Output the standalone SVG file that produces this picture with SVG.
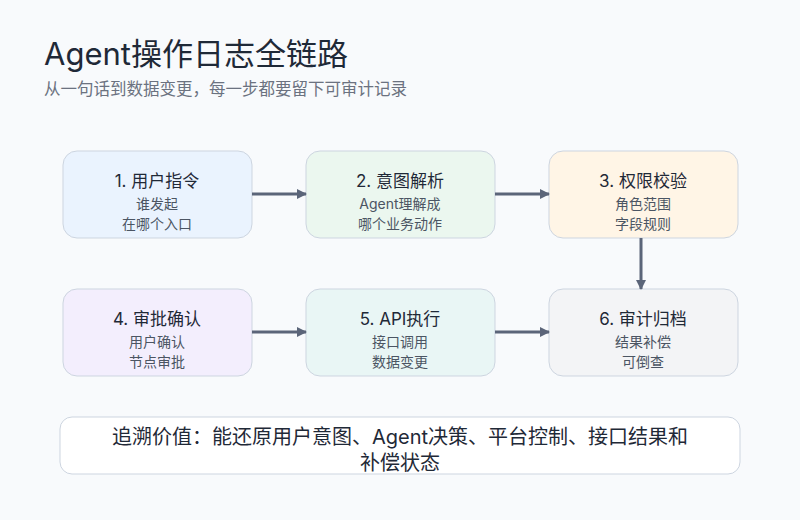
<svg xmlns="http://www.w3.org/2000/svg" width="800" height="520" viewBox="0 0 800 520">
<defs>
<marker id="ah" markerWidth="10" markerHeight="10" refX="9" refY="5" orient="auto" markerUnits="userSpaceOnUse"><path d="M0,0 L10,5 L0,10 Z" fill="#5B6579"/></marker>
</defs>
<style>
text{font-family:Inter,"Noto Sans CJK SC",sans-serif}
.box{stroke:#CDD5E0;stroke-width:1}
.t{font-size:17px;fill:#1F2937;text-anchor:middle}
.s{font-size:14px;fill:#4B5563;text-anchor:middle}
.c{stroke:#5B6579;stroke-width:3;fill:none;marker-end:url(#ah)}
</style>
<rect width="800" height="520" fill="#F8FAFC"/>
<text x="44" y="65" font-size="31" fill="#1F2937">Agent操作日志全链路</text>
<text x="44" y="95" font-size="16.5" fill="#6B7280">从一句话到数据变更，每一步都要留下可审计记录</text>
<g id="n1"><rect class="box" x="63" y="151" width="189" height="87" rx="14" fill="#EAF3FE"/><text class="t" x="157" y="187">1. 用户指令</text><text class="s" x="157" y="209">谁发起</text><text class="s" x="157" y="229">在哪个入口</text></g>
<g id="n2"><rect class="box" x="306" y="151" width="189" height="87" rx="14" fill="#EBF7EF"/><text class="t" x="400" y="187">2. 意图解析</text><text class="s" x="400" y="209">Agent理解成</text><text class="s" x="400" y="229">哪个业务动作</text></g>
<g id="n3"><rect class="box" x="549" y="151" width="189" height="87" rx="14" fill="#FFF5E6"/><text class="t" x="643" y="187">3. 权限校验</text><text class="s" x="643" y="209">角色范围</text><text class="s" x="643" y="229">字段规则</text></g>
<g id="n4"><rect class="box" x="63" y="289" width="189" height="87" rx="14" fill="#F3EEFD"/><text class="t" x="157" y="325">4. 审批确认</text><text class="s" x="157" y="347">用户确认</text><text class="s" x="157" y="367">节点审批</text></g>
<g id="n5"><rect class="box" x="306" y="289" width="189" height="87" rx="14" fill="#E9F6F5"/><text class="t" x="400" y="325">5. API执行</text><text class="s" x="400" y="347">接口调用</text><text class="s" x="400" y="367">数据变更</text></g>
<g id="n6"><rect class="box" x="549" y="289" width="189" height="87" rx="14" fill="#F3F4F6"/><text class="t" x="643" y="325">6. 审计归档</text><text class="s" x="643" y="347">结果补偿</text><text class="s" x="643" y="367">可倒查</text></g>
<g id="connectors">
<line class="c" x1="252" y1="194" x2="306" y2="194"/>
<line class="c" x1="495" y1="194" x2="549" y2="194"/>
<line class="c" x1="641" y1="238" x2="641" y2="289"/>
<line class="c" x1="252" y1="332" x2="306" y2="332"/>
<line class="c" x1="495" y1="332" x2="549" y2="332"/>
</g>
<g id="note"><rect x="60" y="417" width="680" height="57" rx="12" fill="#FFFFFF" stroke="#CDD5E0"/><text x="400" y="444" font-size="20" fill="#1F2937" text-anchor="middle">追溯价值：能还原用户意图、Agent决策、平台控制、接口结果和</text><text x="400" y="470" font-size="20" fill="#1F2937" text-anchor="middle">补偿状态</text></g>
</svg>
